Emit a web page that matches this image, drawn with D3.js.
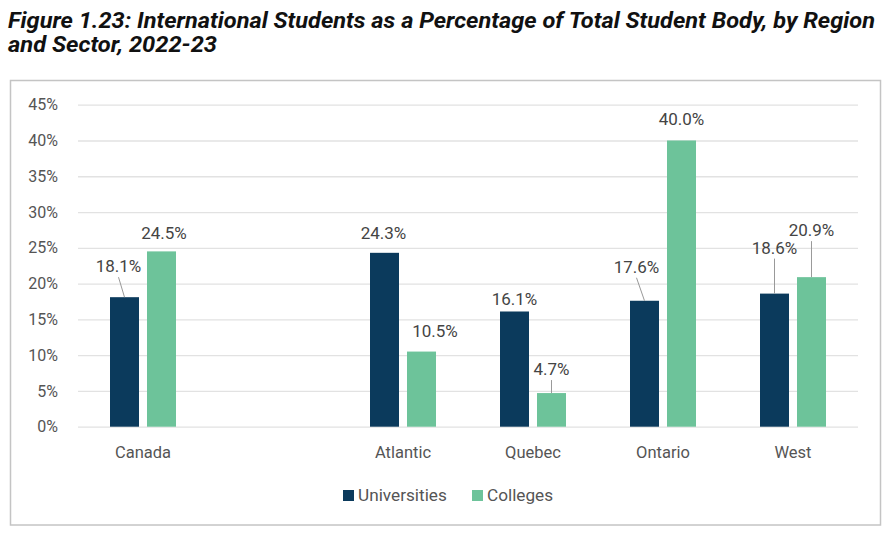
<!DOCTYPE html>
<html>
<head>
<meta charset="utf-8">
<script src="https://cdn.jsdelivr.net/npm/d3@7"></script>
<style>
  body { margin: 0; background: #fff; }
  svg { display: block; font-family: Roboto, "Noto Sans", sans-serif; }
</style>
</head>
<body>
<div id="chart"></div>
<script>
// data
const regions = ['Canada', '', 'Atlantic', 'Quebec', 'Ontario', 'West'];
const seriesNames = ['Universities', 'Colleges'];
const universities = [18.1, null, 24.3, 16.1, 17.6, 18.6];
const colleges = [24.5, null, 10.5, 4.7, 40.0, 20.9];
const yTicks = [0, 5, 10, 15, 20, 25, 30, 35, 40, 45];

const colors = { Universities: '#0b3a5c', Colleges: '#6dc39a' };

// label placement: [dx, lift above bar top, leader line?]
const labelPlace = {
    Universities: [[-6, 25, true], null, [-1, 14, false], [0, 6, false], [-8, 28, true], [0, 40, true]],
    Colleges: [[2.5, 12, false], null, [13.5, 15, false], [0, 18, true], [0, 15, false], [0, 41, true]]
};

const W = 895, H = 546;
const margin = { top: 104.7, left: 78, right: 37, bottom: 119.3 };
const width = W - margin.left - margin.right;
const height = H - margin.top - margin.bottom;

const svg = d3.select('#chart').append('svg')
    .attr('width', W)
    .attr('height', H);

// title (condensed look via textLength)
const title = svg.append('text')
    .attr('font-weight', 'bold')
    .attr('font-style', 'italic')
    .attr('font-size', 21.5)
    .attr('fill', '#111');
title.append('tspan')
    .attr('x', 8).attr('y', 28)
    .attr('textLength', 867).attr('lengthAdjust', 'spacingAndGlyphs')
    .text('Figure 1.23: International Students as a Percentage of Total Student Body, by Region');
title.append('tspan')
    .attr('x', 8).attr('y', 52)
    .attr('textLength', 209).attr('lengthAdjust', 'spacingAndGlyphs')
    .text('and Sector, 2022-23');

// frame
svg.append('rect')
    .attr('x', 10.5).attr('y', 80.5)
    .attr('width', 870).attr('height', 444.5)
    .attr('fill', 'none')
    .attr('stroke', '#c4c4c4')
    .attr('stroke-width', 1.5);

const g = svg.append('g')
    .attr('transform', `translate(${margin.left},${margin.top})`);

const x0 = d3.scaleBand()
    .domain(regions)
    .range([0, width])
    .padding(0);

const x1 = d3.scaleBand()
    .domain(seriesNames)
    .range([0, x0.bandwidth()])
    .paddingInner(0.216)
    .paddingOuter(0.865);

const y = d3.scaleLinear()
    .domain([0, 45])
    .range([height, 0]);

// gridlines
g.append('g')
    .call(d3.axisLeft(y).tickValues(yTicks).tickSize(-width).tickFormat(''))
    .call(a => a.select('.domain').remove())
    .selectAll('.tick line')
    .attr('stroke', '#e2e2e2')
    .attr('stroke-width', 1.3);

// y labels
g.append('g')
    .call(d3.axisLeft(y).tickValues(yTicks).tickSize(0).tickPadding(20).tickFormat(d => d + '%'))
    .call(a => a.select('.domain').remove())
    .selectAll('text')
    .attr('font-size', 16)
    .attr('font-family', 'Roboto, sans-serif')
    .attr('fill', '#555');

// x labels
g.append('g')
    .attr('transform', `translate(0,${height})`)
    .call(d3.axisBottom(x0).tickSize(0).tickPadding(20))
    .call(a => a.select('.domain').remove())
    .selectAll('text')
    .attr('font-size', 16.5)
    .attr('font-family', 'Roboto, sans-serif')
    .attr('fill', '#555');

const series = { Universities: universities, Colleges: colleges };

seriesNames.forEach(name => {
    const vals = series[name];
    const rows = regions.map((r, i) => ({ region: r, value: vals[i], place: labelPlace[name][i] }))
        .filter(d => d.value != null);

    const bx = d => x0(d.region) + x1(name);
    const cx = d => bx(d) + x1.bandwidth() / 2;

    g.selectAll(`.bar-${name}`)
        .data(rows)
        .enter()
        .append('rect')
        .attr('x', bx)
        .attr('y', d => y(d.value))
        .attr('width', x1.bandwidth())
        .attr('height', d => height - y(d.value))
        .attr('fill', colors[name]);

    // leader lines
    g.selectAll(`.leader-${name}`)
        .data(rows.filter(d => d.place[2]))
        .enter()
        .append('line')
        .attr('x1', d => cx(d) + d.place[0])
        .attr('y1', d => y(d.value) - d.place[1] + 5)
        .attr('x2', d => cx(d))
        .attr('y2', d => y(d.value))
        .attr('stroke', '#999')
        .attr('stroke-width', 1);

    g.selectAll(`.label-${name}`)
        .data(rows)
        .enter()
        .append('text')
        .attr('x', d => cx(d) + d.place[0])
        .attr('y', d => y(d.value) - d.place[1])
        .attr('text-anchor', 'middle')
        .attr('font-size', 17)
        .attr('fill', '#444')
        .text(d => d.value.toFixed(1) + '%');
});

// legend
const legend = svg.append('g').attr('transform', 'translate(343,490)');
const legendX = [0, 129];
seriesNames.forEach((name, i) => {
    const item = legend.append('g').attr('transform', `translate(${legendX[i]},0)`);
    item.append('rect')
        .attr('width', 11).attr('height', 11)
        .attr('fill', colors[name]);
    item.append('text')
        .attr('x', 15).attr('y', 11)
        .attr('font-size', 17.2)
        .attr('fill', '#555')
        .text(name);
});
</script>
</body>
</html>
